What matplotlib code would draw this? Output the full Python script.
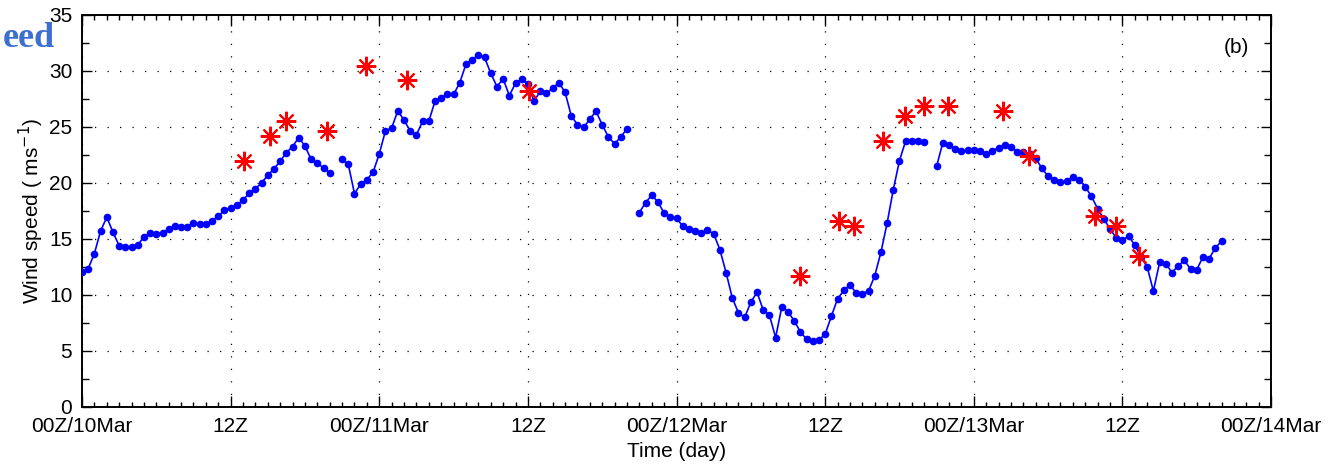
import numpy as np
import matplotlib
matplotlib.use("Agg")
import matplotlib.pyplot as plt
from matplotlib.ticker import MultipleLocator, FixedLocator

plt.rcParams["font.family"] = ["Liberation Sans", "DejaVu Sans"]

# half-hourly model wind speed (m/s), hours from 00Z/10Mar; NaN = missing
wind_t = np.arange(0, 92.5, 0.5)
wind_v = np.array([
    12.05, 12.35, 13.7, 15.7, 16.95, 15.6, 14.4, 14.25, 14.25, 14.45, 15.2, 15.5,
    15.45, 15.55, 15.85, 16.2, 16.1, 16.1, 16.45, 16.3, 16.35, 16.6, 17.05, 17.55,
    17.8, 18.05, 18.45, 19.1, 19.5, 20.0, 20.7, 21.25, 21.95, 22.7, 23.25, 24.05,
    23.3, 22.1, 21.75, 21.35, 20.9, np.nan, 22.1, 21.65, 19.05, 19.9, 20.3, 20.95,
    22.6, 24.65, 24.9, 26.45, 25.6, 24.65, 24.3, 25.5, 25.5, 27.3, 27.6, 27.9,
    27.9, 28.95, 30.6, 31.0, 31.4, 31.2, 29.8, 28.6, 29.3, 27.8, 28.9, 29.3,
    28.8, 27.3, 28.2, 28.0, 28.45, 28.95, 28.1, 26.0, 25.2, 24.95, 25.7, 26.4,
    25.2, 24.1, 23.5, 24.1, 24.85, np.nan, 17.35, 18.25, 18.9, 18.3, 17.3, 17.0,
    16.85, 16.15, 15.85, 15.75, 15.55, 15.8, 15.45, 14.05, 12.0, 9.75, 8.4, 8.0,
    9.35, 10.25, 8.65, 8.2, 6.2, 8.95, 8.5, 7.7, 6.7, 6.05, 5.9, 6.0,
    6.5, 8.1, 9.65, 10.4, 10.9, 10.2, 10.1, 10.35, 11.7, 13.8, 16.4, 19.4,
    22.0, 23.75, 23.75, 23.75, 23.7, np.nan, 21.5, 23.6, 23.4, 23.0, 22.85, 22.9,
    22.95, 22.85, 22.55, 22.85, 23.15, 23.4, 23.2, 22.8, 22.8, 22.6, 22.2, 21.3,
    20.6, 20.25, 20.05, 20.15, 20.55, 20.3, 19.65, 18.8, 17.7, 16.8, 15.9, 15.1,
    14.9, 15.25, 14.45, 13.4, 12.5, 10.35, 12.9, 12.8, 12.0, 12.6, 13.1, 12.3,
    12.25, 13.4, 13.25, 14.2, 14.8,
])

# observations
obs_t = [13.1, 15.2, 16.45, 19.75, 22.95, 26.25, 36.05, 58.0, 61.15, 62.3,
         64.65, 66.45, 68.0, 69.95, 74.35, 76.45, 81.8, 83.45, 85.3]
obs_v = [21.95, 24.2, 25.55, 24.65, 30.45, 29.15, 28.25, 11.7, 16.6, 16.15,
         23.75, 25.95, 26.85, 26.85, 26.45, 22.4, 17.05, 16.15, 13.5]

tick_hours = [0, 12, 24, 36, 48, 60, 72, 84, 96]
tick_labels = ["00Z/10Mar", "12Z", "00Z/11Mar", "12Z", "00Z/12Mar", "12Z",
               "00Z/13Mar", "12Z", "00Z/14Mar"]

fig = plt.figure(figsize=(13.29, 4.69), dpi=100)
ax = fig.add_axes([0.0617, 0.1322, 0.8947, 0.836])

ax.plot(wind_t, wind_v, "-o", color="#0000ff", lw=1.2, ms=4.5, zorder=3)
ax.plot(obs_t, obs_v, ls="none", marker=(8, 2, 0), color="#ff0000",
        ms=14, mew=1.5, zorder=4)

ax.set_xlim(0, 96)
ax.set_ylim(0, 35)
ax.xaxis.set_major_locator(FixedLocator(tick_hours))
ax.set_xticklabels(tick_labels)
ax.xaxis.set_minor_locator(MultipleLocator(1))
ax.yaxis.set_major_locator(MultipleLocator(5))
ax.yaxis.set_minor_locator(MultipleLocator(2.5))

ax.grid(True, which="major", color="black", lw=0.9, ls=(0, (1, 9)))
ax.tick_params(which="both", direction="in", top=True, right=True,
               labelsize=15, color="black")
ax.tick_params(axis="x", which="major", length=8, width=1.0, pad=7)
ax.tick_params(axis="x", which="minor", length=3.5, width=1.0)
ax.tick_params(axis="y", which="major", length=7, width=1.0, pad=7)
ax.tick_params(axis="y", which="minor", length=5, width=1.0)
for sp in ax.spines.values():
    sp.set_linewidth(1.4)

ax.set_xlabel("Time (day)", fontsize=15)
ax.set_ylabel("Wind speed ( ms$^{-1}$)", fontsize=15)
ax.xaxis.set_label_coords(0.5, -0.09)
ax.yaxis.set_label_coords(-0.030, 0.5)

ax.text(0.971, 0.916, "(b)", transform=ax.transAxes, ha="center",
        va="center", fontsize=15)

# tail of the neighbouring panel title
fig.text(0.002, 1 - 47 / 469, "eed", ha="left", va="baseline",
         fontsize=26, fontweight="bold", color="#3d6fcf",
         family=["Liberation Serif", "DejaVu Serif"])

fig.savefig("out.png", dpi=100, facecolor="white")
